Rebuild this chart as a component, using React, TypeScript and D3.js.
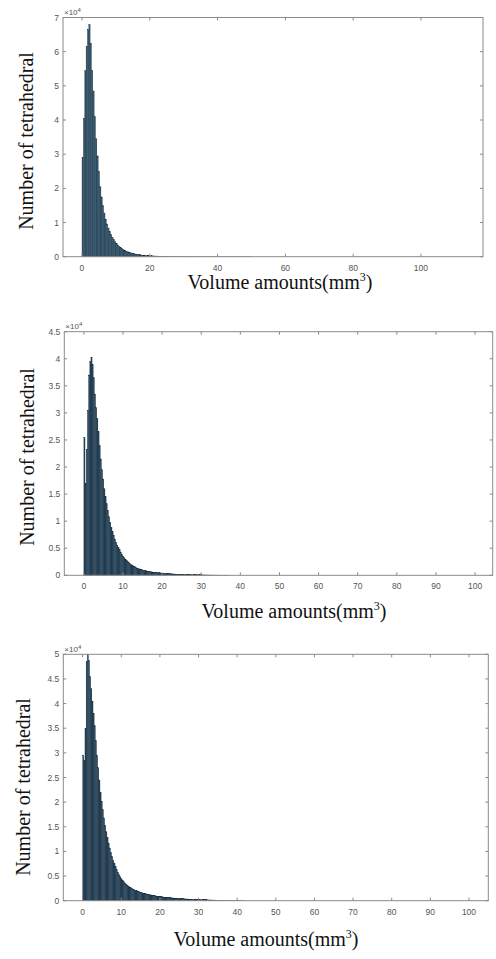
import React from "react";
import * as d3 from "d3";

// ---------- DATA ----------
// Panel 1: bin width 0.4 mm^3, counts starting at 0
const P1_BIN_WIDTH = 0.4;
const P1_COUNTS = [
  29000, 40500, 54500, 61500, 66500, 68000, 62500, 54500, 48500, 41000,
  34500, 29500, 25000, 20500, 17500, 15000, 12800, 11000, 9600, 8400,
  7400, 6500, 5700, 5000, 4400, 3900, 3450, 3050, 2700, 2400,
  2150, 1900, 1700, 1520, 1360, 1220, 1100, 990, 890, 800,
  720, 650, 590, 530, 480, 440, 400, 360, 330, 300,
  270, 250, 230, 215, 200, 185, 170, 160, 150, 140,
  130, 122, 115, 108, 100, 95, 90, 85, 80, 76,
  72, 68, 64, 60, 57, 54, 51, 48, 46, 44,
  42, 40, 38, 36, 34, 32, 30, 29, 28, 27,
  26, 25, 24, 23, 22, 21, 20, 19, 18, 17,
  16, 15, 15, 14, 14, 13, 13, 12, 12, 11,
  11, 10, 10, 9, 9, 8, 8, 7, 7, 6,
  6, 5, 5, 4, 4,
];
const P1_X_DOMAIN = [-5.6, 118.3];
const P1_X_TICKS = [0, 20, 40, 60, 80, 100];
const P1_Y_TICKS = [0, 1, 2, 3, 4, 5, 6, 7];

// Panel 2: bin width 0.3
const P2_BIN_WIDTH = 0.3;
const P2_COUNTS = [
  25500, 17000, 23300, 30500, 37000, 39500, 40300, 39000, 36500, 33500,
  31000, 29000, 26500, 24000, 21500, 19500, 17800, 16000, 14500, 13200,
  12000, 10800, 9800, 8900, 8100, 7400, 6700, 6100, 5600, 5100,
  4700, 4300, 3900, 3550, 3250, 3000, 2750, 2520, 2320, 2140,
  1980, 1830, 1690, 1560, 1450, 1350, 1260, 1180, 1100, 1030,
  970, 910, 860, 810, 765, 720, 680, 645, 610, 580,
  550, 520, 495, 470, 448, 426, 405, 386, 368, 350,
  333, 317, 302, 288, 274, 261, 249, 237, 226, 215,
  205, 195, 186, 177, 169, 161, 153, 146, 139, 132,
  126, 120, 114, 108, 103, 98, 93, 88, 84, 80,
  76, 72, 68, 65, 62, 59, 56, 53, 50, 47,
  45, 42, 40, 38, 36, 34, 32, 30, 28, 26,
  24, 22, 20, 18,
];
const P2_X_DOMAIN = [-5, 104.5];
const P2_X_TICKS = [0, 10, 20, 30, 40, 50, 60, 70, 80, 90, 100];
const P2_Y_TICKS = [0, 0.5, 1, 1.5, 2, 2.5, 3, 3.5, 4, 4.5];

// Panel 3: bin width 0.3
const P3_BIN_WIDTH = 0.3;
const P3_COUNTS = [
  29500, 28500, 35000, 48500, 50000, 48800, 45500, 43000, 40500, 38000,
  35500, 32500, 29500, 27000, 24500, 22000, 20200, 18500, 16800, 15300,
  14000, 12800, 11700, 10700, 9800, 9000, 8200, 7500, 6900, 6300,
  5800, 5300, 4900, 4500, 4200, 3900, 3600, 3400, 3200, 3000,
  2800, 2650, 2500, 2370, 2250, 2140, 2040, 1940, 1850, 1760,
  1680, 1600, 1530, 1460, 1400, 1340, 1285, 1235, 1185, 1140,
  1095, 1050, 1010, 970, 930, 895, 860, 828, 796, 766,
  737, 709, 682, 656, 631, 607, 584, 562, 541, 520,
  500, 481, 463, 445, 428, 412, 396, 381, 366, 352,
  338, 325, 312, 300, 288, 277, 266, 256, 246, 236,
  227, 218, 209, 201, 193, 185, 178, 171, 164, 157,
  150, 144, 138, 132, 126, 120, 115, 110, 105, 100,
  95, 90, 86, 82, 78, 74, 70, 66, 62, 58,
  55, 52, 49, 46, 43, 40, 37, 34, 31, 28,
];
const P3_X_DOMAIN = [-5, 105];
const P3_X_TICKS = [0, 10, 20, 30, 40, 50, 60, 70, 80, 90, 100];
const P3_Y_TICKS = [0, 0.5, 1, 1.5, 2, 2.5, 3, 3.5, 4, 4.5, 5];

const Y_LABEL = "Number of tetrahedral";
const X_LABEL = "Volume amounts(mm";
const X_LABEL_SUP = "3";
const X_LABEL_END = ")";
const EXP_BASE = "×10";
const EXP_POW = "4";

// ---------- STYLE ----------
const BAR_STROKE = "#0f1f2c";
const AXIS_COLOR = "#8a8a8a";
const TICK_TEXT = "#555";
const LABEL_FONT = "'Liberation Serif', 'Times New Roman', serif";
const TICK_FONT = "'Liberation Sans', Arial, sans-serif";

type PanelProps = {
  counts: number[];
  binWidth: number;
  xDomain: number[];
  xTicks: number[];
  yTicks: number[];
  box: { left: number; right: number; top: number; bottom: number };
  xLabelX: number;
  xLabelY: number;
  yLabelX: number;
  yLabelY: number;
  fill: string;
};

function Panel(p: PanelProps) {
  const { box } = p;
  const x = d3.scaleLinear().domain(p.xDomain).range([box.left, box.right]);
  const yMax = p.yTicks[p.yTicks.length - 1];
  const y = d3.scaleLinear().domain([0, yMax * 1e4]).range([box.bottom, box.top]);
  const tl = 3;
  return (
    <g>
      <g>
        {p.counts.map((c, i) => {
          const x0 = x(i * p.binWidth);
          const x1 = x((i + 1) * p.binWidth);
          const yy = y(c);
          return (
            <rect
              key={i}
              x={x0}
              y={yy}
              width={x1 - x0}
              height={box.bottom - yy}
              fill={p.fill}
              stroke={BAR_STROKE}
              strokeWidth={0.25}
            />
          );
        })}
      </g>
      <rect
        x={box.left}
        y={box.top}
        width={box.right - box.left}
        height={box.bottom - box.top}
        fill="none"
        stroke={AXIS_COLOR}
        strokeWidth={1}
      />
      {p.xTicks.map((t) => (
        <g key={"x" + t}>
          <line x1={x(t)} x2={x(t)} y1={box.bottom} y2={box.bottom - tl} stroke={AXIS_COLOR} />
          <line x1={x(t)} x2={x(t)} y1={box.top} y2={box.top + tl} stroke={AXIS_COLOR} />
          <text
            x={x(t)}
            y={box.bottom + 14}
            textAnchor="middle"
            fontFamily={TICK_FONT}
            fontSize={8.5}
            fill={TICK_TEXT}
          >
            {t}
          </text>
        </g>
      ))}
      {p.yTicks.map((t) => (
        <g key={"y" + t}>
          <line x1={box.left} x2={box.left + tl} y1={y(t * 1e4)} y2={y(t * 1e4)} stroke={AXIS_COLOR} />
          <line x1={box.right} x2={box.right - tl} y1={y(t * 1e4)} y2={y(t * 1e4)} stroke={AXIS_COLOR} />
          <text
            x={box.left - 4}
            y={y(t * 1e4) + 3}
            textAnchor="end"
            fontFamily={TICK_FONT}
            fontSize={8.5}
            fill={TICK_TEXT}
          >
            {t}
          </text>
        </g>
      ))}
      <text x={box.left + 1} y={box.top - 2.5} fontFamily={TICK_FONT} fontSize={8} fill={TICK_TEXT}>
        {EXP_BASE}
        <tspan dy={-3} fontSize={6}>
          {EXP_POW}
        </tspan>
      </text>
      <text
        x={p.xLabelX}
        y={p.xLabelY}
        textAnchor="middle"
        fontFamily={LABEL_FONT}
        fontSize={20}
        fill="#111"
      >
        {X_LABEL}
        <tspan dy={-8} fontSize={12}>
          {X_LABEL_SUP}
        </tspan>
        <tspan dy={8}>{X_LABEL_END}</tspan>
      </text>
      <text
        transform={`translate(${p.yLabelX},${p.yLabelY}) rotate(-90)`}
        textAnchor="middle"
        fontFamily={LABEL_FONT}
        fontSize={20}
        fill="#111"
      >
        {Y_LABEL}
      </text>
    </g>
  );
}

export default function App() {
  return (
    <div style={{ position: "absolute", left: 0, top: 0 }}>
      <svg width={496} height={959} style={{ display: "block", background: "#fff" }}>
        <rect x={0} y={0} width={496} height={959} fill="#fff" />
        <Panel
          counts={P1_COUNTS}
          binWidth={P1_BIN_WIDTH}
          xDomain={P1_X_DOMAIN}
          xTicks={P1_X_TICKS}
          yTicks={P1_Y_TICKS}
          box={{ left: 63, right: 483, top: 17.5, bottom: 256.7 }}
          xLabelX={280}
          xLabelY={289}
          yLabelX={33}
          yLabelY={141}
          fill="#33586f"
        />
        <Panel
          counts={P2_COUNTS}
          binWidth={P2_BIN_WIDTH}
          xDomain={P2_X_DOMAIN}
          xTicks={P2_X_TICKS}
          yTicks={P2_Y_TICKS}
          box={{ left: 64.3, right: 492.7, top: 331.7, bottom: 575.3 }}
          xLabelX={294}
          xLabelY={618}
          yLabelX={34}
          yLabelY={457}
          fill="#23445c"
        />
        <Panel
          counts={P3_COUNTS}
          binWidth={P3_BIN_WIDTH}
          xDomain={P3_X_DOMAIN}
          xTicks={P3_X_TICKS}
          yTicks={P3_Y_TICKS}
          box={{ left: 63.3, right: 488.3, top: 654.3, bottom: 900.7 }}
          xLabelX={266}
          xLabelY={946}
          yLabelX={30}
          yLabelY={787}
          fill="#23445c"
        />
      </svg>
    </div>
  );
}
